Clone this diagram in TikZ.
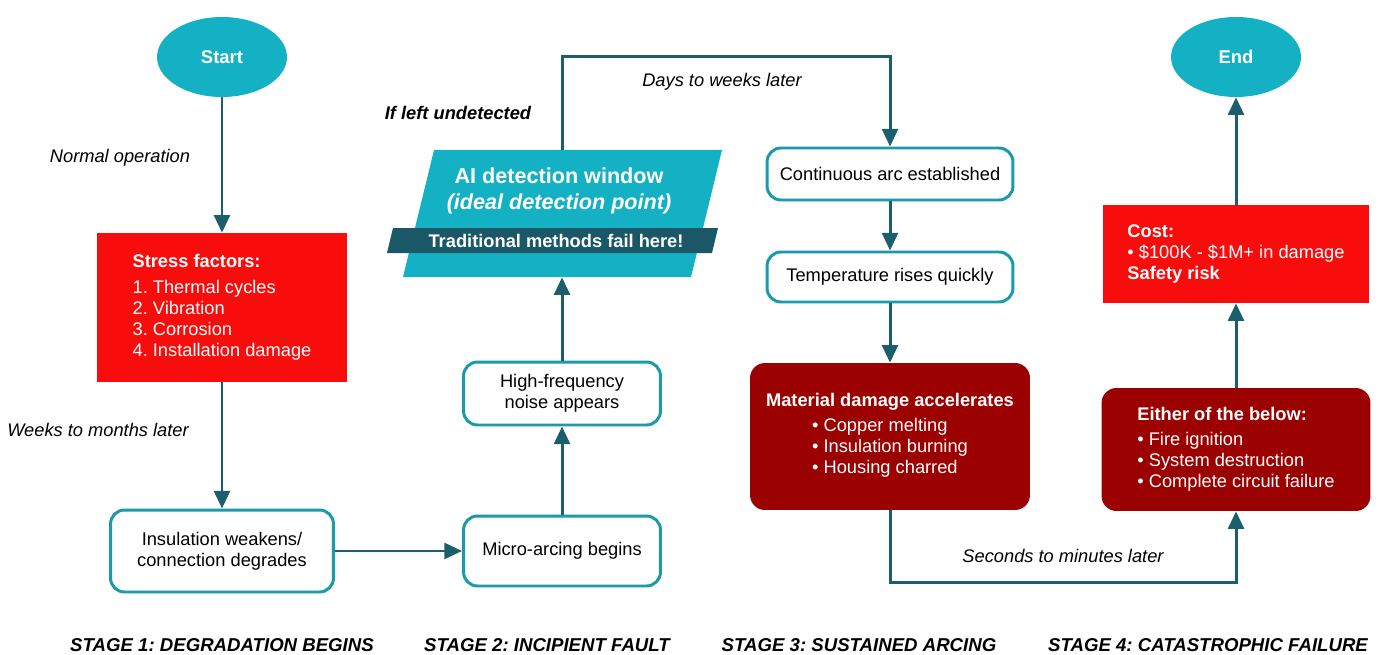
\documentclass[tikz,border=0pt]{standalone}
\usepackage{fontspec}
\setmainfont{Liberation Sans}
\usetikzlibrary{arrows.meta,shapes.geometric,calc}
\definecolor{tealfill}{HTML}{14B1C4}
\definecolor{tealline}{HTML}{1A9AAA}
\definecolor{arrowc}{HTML}{1B5E6D}
\definecolor{bandc}{HTML}{1A5868}
\definecolor{redbox}{HTML}{F80C0C}
\definecolor{darkred}{HTML}{9B0101}
\frenchspacing

\begin{document}
\begin{tikzpicture}[x=0.02cm,y=-0.02cm,
  font=\fontsize{10.4}{12}\selectfont,
  flow/.style={draw=arrowc,line width=1.7pt,-{Triangle[length=10pt,width=9pt]}},
  terminal/.style={ellipse,fill=tealfill,text=white,font=\fontsize{10.5}{12}\selectfont\bfseries,
    minimum width=2.6cm,minimum height=1.6cm},
  whitebox/.style={draw=tealline,line width=1.7pt,fill=white,rounded corners=0.28cm,align=center},
  redrect/.style={fill=redbox,text=white,align=left},
  darkbox/.style={fill=darkred,text=white,rounded corners=0.3cm,align=left},
  note/.style={font=\fontsize{10.4}{12}\selectfont\itshape},
  stage/.style={font=\fontsize{10.6}{12}\selectfont\bfseries\itshape}]
\useasboundingbox (0,0) rectangle (1378,655);

% stage 1
\node[terminal] (start) at (222,57) {Start};
\node[redrect,minimum width=5cm,minimum height=2.98cm] (stress) at (222,307.5)
  {\textbf{Stress factors:}\\[2.5pt] 1. Thermal cycles\\ 2. Vibration\\ 3. Corrosion\\ 4. Installation damage};
\node[whitebox,minimum width=4.46cm,minimum height=1.64cm] (insul) at (222,551)
  {Insulation weakens/\\ connection degrades};
\node[note] (normal) at (120,158) {Normal operation};
\node[note] (weeks) at (98,430) {Weeks to months later};

% stage 2
\node[whitebox,minimum width=3.94cm,minimum height=1.4cm] (micro) at (562,551) {Micro-arcing begins};
\node[whitebox,minimum width=3.94cm,minimum height=1.26cm] (noise) at (562,393.5) {High-frequency\\ noise appears};
\fill[tealfill] (434,150) -- (722,150) -- (691,277) -- (403,277) -- cycle;
\fill[bandc] (393,228) -- (718,228) -- (712,253) -- (387,253) -- cycle;
\node[minimum width=5.76cm,minimum height=2.54cm,inner sep=0pt] (ai) at (562,213.5) {};
\node[text=white,font=\fontsize{12.3}{14.5}\selectfont\bfseries,align=center] (aitext) at (559,191)
  {AI detection window\\ \itshape(ideal detection point)};
\node[text=white,font=\fontsize{10.4}{12}\selectfont\bfseries] (band) at (556,241) {Traditional methods fail here!};
\node[font=\fontsize{10.4}{12}\selectfont\bfseries\itshape] (undet) at (458,113) {If left undetected};
\node[note] (days) at (722,82) {Days to weeks later};

% stage 3
\node[whitebox,minimum width=4.92cm,minimum height=1.04cm] (cont) at (890,174) {Continuous arc established};
\node[whitebox,minimum width=4.92cm,minimum height=1.0cm] (temp) at (890,277) {Temperature rises quickly};
\node[darkbox,minimum width=5.6cm,minimum height=2.94cm,align=center] (mat) at (890,436.5)
  {\textbf{Material damage accelerates}\\[3pt]
   \begin{tabular}{@{}l@{}}• Copper melting\\ • Insulation burning\\ • Housing charred\end{tabular}};
\node[note] (secs) at (1063,556) {Seconds to minutes later};

% stage 4
\node[darkbox,minimum width=5.38cm,minimum height=2.46cm] (either) at (1236,449.5)
  {\textbf{Either of the below:}\\[2pt] • Fire ignition\\ • System destruction\\ • Complete circuit failure};
\node[redrect,minimum width=5.32cm,minimum height=1.96cm] (cost) at (1236,254)
  {\textbf{Cost:}\\ • \$100K - \$1M+ in damage\\ \textbf{Safety risk}};
\node[terminal] (end) at (1236,57) {End};

% connectors
\draw[flow] (start) -- (stress);
\draw[flow] (stress) -- (insul);
\draw[flow] (insul) -- (micro);
\draw[flow] (micro) -- (noise);
\draw[flow] (noise) -- (ai.south);
\draw[flow] (ai.north) -- ++(0,-93) -| (cont.north);
\draw[flow] (cont) -- (temp);
\draw[flow] (temp) -- (mat);
\draw[flow] (mat.south) -- ++(0,72) -| (either.south);
\draw[flow] (either) -- (cost);
\draw[flow] (cost) -- (end);

% stage labels
\node[stage] (s1) at (222,645) {STAGE 1: DEGRADATION BEGINS};
\node[stage] (s2) at (547,645) {STAGE 2: INCIPIENT FAULT};
\node[stage] (s3) at (859,645) {STAGE 3: SUSTAINED ARCING};
\node[stage] (s4) at (1208,645) {STAGE 4: CATASTROPHIC FAILURE};
\end{tikzpicture}
\end{document}
